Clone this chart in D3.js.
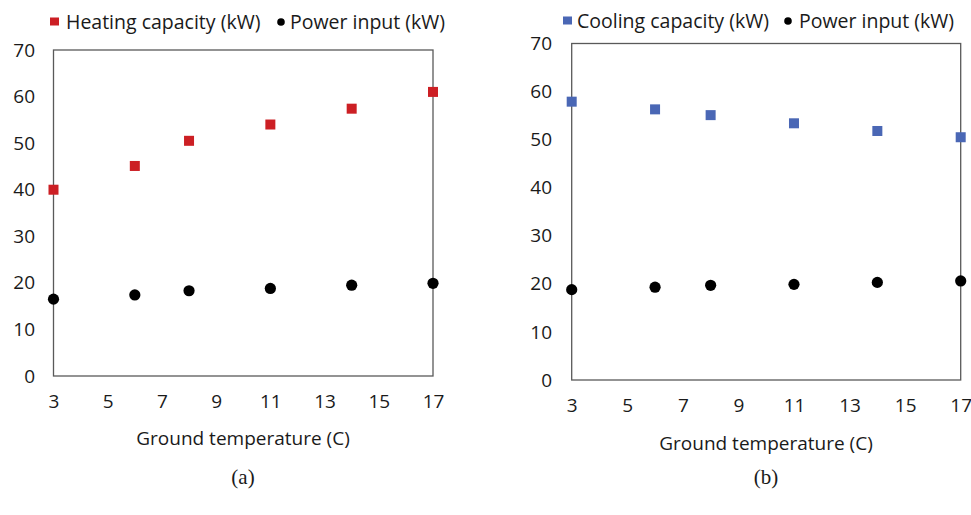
<!DOCTYPE html>
<html><head><meta charset="utf-8">
<script src="https://cdn.jsdelivr.net/npm/d3@7"></script>
<style>body{margin:0;background:#fff}svg{display:block}</style>
</head><body>
<svg id="c" width="971" height="515"></svg>
<script>
const temps = [3, 6, 8, 11, 14, 17];
const heatingCapacity = [40.0, 45.1, 50.5, 54.0, 57.4, 61.0];
const heatingPower = [16.5, 17.4, 18.3, 18.8, 19.5, 19.9];
const coolingCapacity = [57.9, 56.3, 55.1, 53.4, 51.8, 50.5];
const coolingPower = [18.8, 19.3, 19.7, 19.9, 20.3, 20.6];
const xTicks = [3, 5, 7, 9, 11, 13, 15, 17];
const yTicks = [0, 10, 20, 30, 40, 50, 60, 70];
const xTitle = "Ground temperature (C)";

const svg = d3.select("#c");
const font = "'Open Sans', sans-serif";
const fs = 19;
const fsLeg = 19.5;

function panel(o) {
  const x = d3.scaleLinear().domain([3, 17]).range([o.l, o.r]);
  const y = d3.scaleLinear().domain([0, 70]).range([o.b, o.t]);
  const g = svg.append("g");
  g.append("rect").attr("x", o.l).attr("y", o.t).attr("width", o.r - o.l).attr("height", o.b - o.t)
    .attr("fill", "none").attr("stroke", "#595959").attr("stroke-width", 1.3);
  const ya = g.append("g").attr("transform", `translate(${o.l},0)`)
    .call(d3.axisLeft(y).tickValues(yTicks).tickSize(0).tickPadding(o.l - o.yLabelX));
  ya.select(".domain").remove();
  ya.selectAll("text").attr("font-family", font).attr("font-size", fs).attr("fill", "#1a1a1a");
  const xa = g.append("g").attr("transform", `translate(0,${o.b})`)
    .call(d3.axisBottom(x).tickValues(xTicks).tickSize(0).tickPadding(o.xLabelPad));
  xa.select(".domain").remove();
  xa.selectAll("text").attr("font-family", font).attr("font-size", fs).attr("fill", "#1a1a1a");
  g.append("text").attr("x", o.titleX).attr("y", o.titleY).attr("text-anchor", "middle")
    .attr("font-family", font).attr("font-size", fs).attr("fill", "#1a1a1a").text(xTitle);
  g.selectAll("circle.p").data(temps).join("circle").attr("class", "p")
    .attr("cx", d => x(d)).attr("cy", (d, i) => y(o.power[i])).attr("r", 5.6).attr("fill", "#000");
  const s = 10;
  g.selectAll("rect.c").data(temps).join("rect").attr("class", "c")
    .attr("x", d => x(d) - s / 2).attr("y", (d, i) => y(o.cap[i]) - s / 2)
    .attr("width", s).attr("height", s).attr("fill", o.color);
  g.append("rect").attr("x", o.legX).attr("y", o.legY - 4.5).attr("width", 9).attr("height", 8).attr("fill", o.color);
  g.append("text").attr("x", o.legT).attr("y", o.legY).attr("dy", "0.35em")
    .attr("font-family", font).attr("font-size", fsLeg).attr("fill", "#1a1a1a").text(o.capName);
  g.append("circle").attr("cx", o.legX2).attr("cy", o.legY).attr("r", 3.8).attr("fill", "#000");
  g.append("text").attr("x", o.legT2).attr("y", o.legY).attr("dy", "0.35em")
    .attr("font-family", font).attr("font-size", fsLeg).attr("fill", "#1a1a1a").text("Power input (kW)");
  g.append("text").attr("x", o.capX).attr("y", 484).attr("text-anchor", "middle")
    .attr("font-family", "'Liberation Serif', 'Times New Roman', serif").attr("font-size", 21)
    .attr("fill", "#1a1a1a").text(o.caption);
}

panel({l: 53.5, r: 433, t: 50, b: 376, yLabelX: 35, xLabelPad: 19, titleX: 243, titleY: 445,
  cap: heatingCapacity, power: heatingPower, color: "#CC1F24", capName: "Heating capacity (kW)",
  legX: 50, legT: 66, legX2: 281, legT2: 290, legY: 22, capX: 243, caption: "(a)"});
panel({l: 571.7, r: 960.7, t: 43.5, b: 380, yLabelX: 552, xLabelPad: 19, titleX: 766, titleY: 450,
  cap: coolingCapacity, power: coolingPower, color: "#4A67B5", capName: "Cooling capacity (kW)",
  legX: 563, legT: 577, legX2: 788, legT2: 799, legY: 21, capX: 766, caption: "(b)"});
</script>
</body></html>
